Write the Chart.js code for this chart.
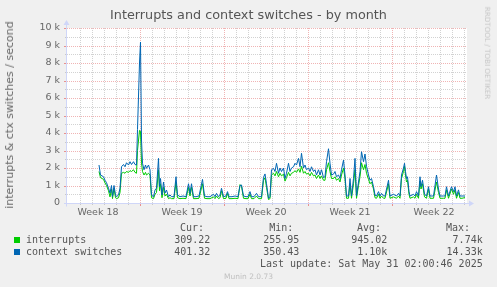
<!DOCTYPE html>
<html><head><meta charset="utf-8">
<script src="https://cdn.jsdelivr.net/npm/chart.js@4.4.1/dist/chart.umd.min.js"></script>
<style>
html,body{margin:0;padding:0;background:#f0f0f0;}
#wrap{position:relative;width:497px;height:287px;overflow:hidden;background:#f0f0f0;font-family:"DejaVu Sans",sans-serif;color:#666;}
#c{position:absolute;left:0;top:0;}
.t{position:absolute;white-space:nowrap;line-height:12px;height:12px;}
.m{font-family:"DejaVu Sans Mono",monospace;font-size:10px;color:#555;}
.r{text-align:right;}
.sq{position:absolute;width:6px;height:6px;}
</style></head><body>
<div id="wrap">
<canvas id="c" width="497" height="287"></canvas>
<div class="t" style="left:0;width:497px;text-align:center;top:8px;height:14px;line-height:14px;font-size:12.8px;color:#555">Interrupts and context switches - by month</div>
<div class="t" style="left:10px;top:114.5px;font-size:11px;transform:translate(-50%,-50%) rotate(-90deg);">interrupts &amp; ctx switches / second</div>
<div class="t" style="left:487px;top:53px;font-size:7.2px;color:#c4c4c4;transform:translate(-50%,-50%) rotate(90deg);">RRDTOOL / TOBI OETIKER</div>

<div class="t m r" style="right:293px;top:222px">Cur:</div>
<div class="t m r" style="right:203.7px;top:222px">Min:</div>
<div class="t m r" style="right:116px;top:222px">Avg:</div>
<div class="t m r" style="right:27px;top:222px">Max:</div>

<div class="sq" style="left:14px;top:237px;background:#00cc00"></div>
<div class="t m" style="left:26px;top:234px">interrupts</div>
<div class="t m r" style="right:286.7px;top:234px">309.22</div>
<div class="t m r" style="right:197.7px;top:234px">255.95</div>
<div class="t m r" style="right:109.7px;top:234px">945.02</div>
<div class="t m r" style="right:14.3px;top:234px">7.74k</div>

<div class="sq" style="left:14px;top:249px;background:#0066b3"></div>
<div class="t m" style="left:26px;top:246px">context switches</div>
<div class="t m r" style="right:286.7px;top:246px">401.32</div>
<div class="t m r" style="right:197.7px;top:246px">350.43</div>
<div class="t m r" style="right:109.7px;top:246px">1.10k</div>
<div class="t m r" style="right:14.3px;top:246px">14.33k</div>

<div class="t m r" style="right:14.3px;top:257.5px">Last update: Sat May 31 02:00:46 2025</div>
<div class="t" style="left:0;width:497px;text-align:center;top:270.5px;font-size:7.5px;color:#c0c0c0">Munin 2.0.73</div>
</div>
<script>
// time axis in hours from left edge of plot
const hours = [64,67,73,76,79,83,86,89,91,94,97,99,103,106,109,113,116,119,123,126,129,133,136,139,141,145,147,149,151,154,157,159,163,166,169,173,176,179,183,185,187,190,193,196,199,203,206,209,214,218,221,226,232,238,243,246,249,253,258,264,271,275,280,286,293,296,299,303,306,309,313,318,321,324,330,336,342,346,349,353,358,362,366,369,374,379,383,389,393,396,399,403,406,409,413,416,419,423,426,429,433,436,439,443,446,449,453,456,459,463,466,469,473,476,479,483,486,489,493,496,499,503,506,509,513,516,519,523,526,529,533,536,539,543,546,549,553,556,559,563,566,569,573,576,579,583,586,589,593,596,599,603,606,609,613,616,619,623,626,629,633,636,643,646,653,659,663,666,669,673,675,677,679,681,684,686,693,696,699,703,706,708,711,715,719,723,726,733,739,743,746,753,756,759,763,769,773,776,779,783,786,790,796];
const interrupts = [1800,1450,1350,1150,1000,700,350,800,250,850,300,250,300,600,1700,1750,1700,1800,1750,1850,1800,1900,1750,1700,3000,4150,4100,2300,1800,1600,1750,1600,1700,1600,300,250,500,600,1900,700,1100,300,900,400,500,250,300,250,250,1200,300,250,270,250,900,400,900,250,250,270,1100,270,250,250,350,250,400,250,300,700,250,270,550,250,250,270,250,1050,950,270,250,250,500,250,250,400,250,250,1300,1450,900,200,250,1600,1700,1550,1800,1500,1700,1550,1650,1250,1450,1750,1550,1700,1750,1850,1750,1950,1750,2100,1700,1800,1650,1700,1550,1750,1550,1600,1400,1600,1400,1550,1300,1300,1900,2300,1800,1400,1400,1500,1300,1400,1200,1600,2000,1400,270,270,1100,270,1100,1900,270,1000,1500,2300,1900,2200,1700,1350,1100,1200,800,300,270,500,270,400,270,270,1100,270,350,270,400,270,1400,1800,2100,1600,1200,1300,500,270,350,270,500,270,1250,800,1100,350,270,800,270,270,1200,600,270,270,270,750,270,800,500,750,270,600,270,270,310];
const contextSwitches = [2170,1600,1500,1300,1160,850,570,1000,360,1000,460,360,460,850,2070,2200,2070,2300,2170,2360,2200,2360,2200,2170,4200,8000,9200,3600,2270,1900,2170,1980,2170,1900,460,360,740,850,2550,930,1400,460,1200,570,740,360,460,360,360,1500,460,360,400,360,1100,550,1100,360,360,400,1350,400,360,360,500,360,550,360,450,840,360,400,650,360,360,400,360,1000,1030,400,360,360,650,360,360,550,360,360,1470,1660,1100,270,360,1900,1980,1800,2270,1700,2000,1800,2000,1400,1700,2270,1800,2000,2070,2270,2170,2550,2070,2840,2000,2170,1900,2000,1800,2070,1800,1900,1600,1900,1600,1900,1450,1500,2360,3100,2270,1600,1650,1800,1500,1600,1400,1900,2450,1600,400,400,1400,400,1400,2550,400,1200,1800,2930,2360,2800,2100,1600,1300,1400,930,450,400,650,400,550,400,400,1300,400,500,400,550,400,1600,2000,2270,1800,1400,1500,650,400,500,400,650,400,1500,930,1300,500,400,930,400,400,1600,800,400,400,400,930,400,930,650,930,400,750,400,400,401];
const weekLabels = ['Week 18','Week 19','Week 20','Week 21','Week 22'];
const weekLabelHours = [62,230,398,566,734];
const yTickLabels = ['0','1 k','2 k','3 k','4 k','5 k','6 k','7 k','8 k','9 k','10 k'];

const X_MAX = 800, Y_MAX = 10000;
const DAY_FIRST = 26, WEEK_FIRST = 146;
const MINOR = '#d2d2d2', MAJOR = '#f0b4b4', AXIS = '#CFD6F8';

const munGrid = {
  id: 'munGrid',
  beforeDatasetsDraw(chart) {
    const {ctx, chartArea: a, scales: {x, y}} = chart;
    ctx.save();
    ctx.fillStyle = '#ffffff';
    ctx.fillRect(a.left, a.top, a.right - a.left, a.bottom - a.top);
    ctx.lineWidth = 1;
    ctx.setLineDash([1, 1]);
    for (let h = DAY_FIRST; h <= X_MAX; h += 24) {
      const px = Math.round(x.getPixelForValue(h)) + 0.5;
      const major = (h - WEEK_FIRST) % 168 === 0;
      ctx.strokeStyle = major ? MAJOR : MINOR;
      ctx.beginPath(); ctx.moveTo(px, a.top); ctx.lineTo(px, a.bottom); ctx.stroke();
    }
    for (let v = 500; v <= Y_MAX; v += 500) {
      const py = Math.round(y.getPixelForValue(v)) + 0.5;
      ctx.strokeStyle = v % 1000 === 0 ? MAJOR : MINOR;
      ctx.beginPath(); ctx.moveTo(a.left, py); ctx.lineTo(a.right, py); ctx.stroke();
    }
    ctx.setLineDash([]);
    for (let h = DAY_FIRST; h <= X_MAX; h += 24) {
      const px = Math.round(x.getPixelForValue(h)) + 0.5;
      const major = (h - WEEK_FIRST) % 168 === 0;
      ctx.strokeStyle = major ? '#e89090' : '#c8c8c8';
      ctx.beginPath(); ctx.moveTo(px, a.bottom); ctx.lineTo(px, a.bottom + (major ? 3 : 2)); ctx.stroke();
    }
    for (let v = 0; v <= Y_MAX; v += 500) {
      const py = Math.round(y.getPixelForValue(v)) + 0.5;
      const major = v % 1000 === 0;
      ctx.strokeStyle = major ? '#e89090' : '#c8c8c8';
      ctx.beginPath(); ctx.moveTo(a.left - (major ? 3 : 2), py); ctx.lineTo(a.left, py); ctx.stroke();
    }
    ctx.restore();
  },
  afterDatasetsDraw(chart) {
    const {ctx, chartArea: a} = chart;
    ctx.save();
    ctx.strokeStyle = AXIS; ctx.fillStyle = AXIS; ctx.lineWidth = 1;
    const lx = Math.round(a.left) - 0.5, by = Math.round(a.bottom) + 0.5;
    ctx.beginPath(); ctx.moveTo(lx, by + 3); ctx.lineTo(lx, a.top - 4); ctx.stroke();
    ctx.beginPath(); ctx.moveTo(lx - 3, a.top - 3); ctx.lineTo(lx + 3, a.top - 3); ctx.lineTo(lx, a.top - 8); ctx.closePath(); ctx.fill();
    ctx.beginPath(); ctx.moveTo(a.left - 3, by); ctx.lineTo(a.right + 3, by); ctx.stroke();
    ctx.beginPath(); ctx.moveTo(a.right + 2, by - 3); ctx.lineTo(a.right + 2, by + 3); ctx.lineTo(a.right + 7, by); ctx.closePath(); ctx.fill();
    ctx.restore();
  }
};

new Chart(document.getElementById('c'), {
  type: 'line',
  data: {
    datasets: [
      {label: 'context switches', data: hours.map((h, i) => ({x: h, y: contextSwitches[i]})),
       borderColor: '#0066b3', borderWidth: 1, pointRadius: 0, tension: 0, fill: false, order: 0},
      {label: 'interrupts', data: hours.map((h, i) => ({x: h, y: interrupts[i]})),
       borderColor: '#00cc00', borderWidth: 1, pointRadius: 0, tension: 0, fill: false, order: 1}
    ]
  },
  options: {
    responsive: false, animation: false, devicePixelRatio: 1,
    layout: {padding: {top: 28, right: 30, left: 0, bottom: 0}},
    plugins: {legend: {display: false}, tooltip: {enabled: false}, title: {display: false}},
    scales: {
      x: {
        type: 'linear', min: 0, max: X_MAX,
        afterFit: s => { s.height = 84; },
        afterBuildTicks: s => { s.ticks = weekLabelHours.map(v => ({value: v})); },
        grid: {display: false, drawTicks: false},
        border: {display: false},
        ticks: {autoSkip: false, maxRotation: 0, padding: 4, color: '#666',
                font: {family: 'DejaVu Sans', size: 9.5},
                callback: (v, i) => weekLabels[i]}
      },
      y: {
        min: 0, max: Y_MAX,
        afterFit: s => { s.width = 67; },
        grid: {display: false, drawTicks: false},
        border: {display: false},
        ticks: {stepSize: 1000, autoSkip: false, padding: 7, color: '#666',
                font: {family: 'DejaVu Sans', size: 9.5},
                callback: (v) => yTickLabels[Math.round(v / 1000)]}
      }
    }
  },
  plugins: [munGrid]
});
</script>
</body></html>
